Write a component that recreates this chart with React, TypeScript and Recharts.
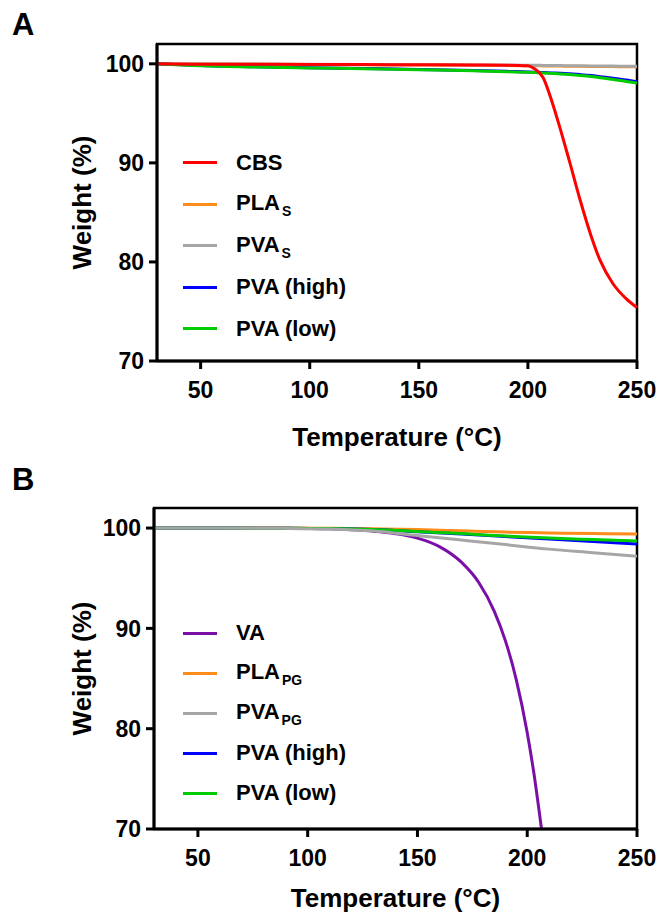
import { LineChart, Line, XAxis, YAxis, ReferenceArea, Label } from 'recharts';

// Panel A - TGA of CBS formulations
const tempA = [30, 50, 75, 100, 125, 150, 175, 190, 200, 203, 207, 211, 215, 219, 224, 229, 233, 239, 245, 250];
const cbsA = [100, 99.95, 99.95, 99.93, 99.92, 99.9, 99.88, 99.86, 99.8, 99.5, 98.6, 96.2, 93.3, 90.2, 86.2, 82.6, 80.2, 77.8, 76.3, 75.4];
const plaSA = [100, 99.98, 99.95, 99.92, 99.9, 99.87, 99.85, 99.82, 99.8, 99.8, 99.79, 99.78, 99.77, 99.76, 99.75, 99.74, 99.73, 99.72, 99.71, 99.7];
const pvaSA = [100, 99.99, 99.97, 99.95, 99.93, 99.91, 99.89, 99.87, 99.85, 99.85, 99.84, 99.83, 99.82, 99.81, 99.8, 99.79, 99.78, 99.77, 99.76, 99.75];
const pvaHighA = [100, 99.82, 99.7, 99.6, 99.52, 99.43, 99.33, 99.24, 99.18, 99.16, 99.12, 99.08, 99.04, 98.99, 98.91, 98.81, 98.7, 98.54, 98.36, 98.18];
const pvaLowA = [100, 99.8, 99.68, 99.58, 99.5, 99.4, 99.3, 99.2, 99.15, 99.12, 99.08, 99.03, 98.98, 98.92, 98.83, 98.72, 98.6, 98.42, 98.22, 98.05];

// Panel B - TGA of VA formulations
const tempVA = [30, 60, 90, 110, 120, 130, 140, 150, 160, 170, 178, 185, 190, 195, 200, 203, 206.5];
const vaB = [100, 100, 99.98, 99.92, 99.83, 99.69, 99.44, 99.0, 98.15, 96.6, 94.55, 91.7, 88.8, 84.9, 79.6, 75.6, 70.0];
const tempB = [30, 60, 90, 110, 130, 150, 170, 190, 210, 230, 250];
const plaPgB = [100, 100, 100, 99.98, 99.93, 99.85, 99.72, 99.6, 99.52, 99.45, 99.4];
const pvaPgB = [100, 100, 99.97, 99.9, 99.7, 99.25, 98.8, 98.35, 97.9, 97.55, 97.2];
const pvaHighB = [100, 100, 99.98, 99.95, 99.85, 99.63, 99.4, 99.15, 98.9, 98.65, 98.4];
const pvaLowB = [100, 100, 99.98, 99.95, 99.85, 99.65, 99.45, 99.2, 99.0, 98.85, 98.7];

const xTicks = [50, 100, 150, 200, 250];
const yTicks = [70, 80, 90, 100];

const FONT = '"Liberation Sans", Arial, Helvetica, sans-serif';

const pts = (t: number[], w: number[]) => t.map((x, i) => ({ t: x, w: w[i] }));

type Series = { key: string; name: string; sub?: string; color: string; data: { t: number; w: number }[] };

const seriesA: Series[] = [
  { key: 'cbs', name: 'CBS', color: '#ff0000', data: pts(tempA, cbsA) },
  { key: 'pla', name: 'PLA', sub: 'S', color: '#ff8c1a', data: pts(tempA, plaSA) },
  { key: 'pvas', name: 'PVA', sub: 'S', color: '#a6a6a6', data: pts(tempA, pvaSA) },
  { key: 'high', name: 'PVA (high)', color: '#0000ff', data: pts(tempA, pvaHighA) },
  { key: 'low', name: 'PVA (low)', color: '#00cc00', data: pts(tempA, pvaLowA) },
];
// draw order (bottom -> top)
const orderA = ['pla', 'pvas', 'high', 'low', 'cbs'];

const seriesB: Series[] = [
  { key: 'va', name: 'VA', color: '#7a0fa8', data: pts(tempVA, vaB) },
  { key: 'pla', name: 'PLA', sub: 'PG', color: '#ff8c1a', data: pts(tempB, plaPgB) },
  { key: 'pvapg', name: 'PVA', sub: 'PG', color: '#a6a6a6', data: pts(tempB, pvaPgB) },
  { key: 'high', name: 'PVA (high)', color: '#0000ff', data: pts(tempB, pvaHighB) },
  { key: 'low', name: 'PVA (low)', color: '#00cc00', data: pts(tempB, pvaLowB) },
];
const orderB = ['va', 'pla', 'high', 'low', 'pvapg'];

const tickStyle = { fontFamily: FONT, fontSize: 23, fontWeight: 700, fill: '#000' };

function LegendBox({ series, rowH, top }: { series: Series[]; rowH: number; top: number }) {
  return (
    <div style={{ position: 'absolute', left: 183, top, fontFamily: FONT, fontWeight: 700, fontSize: 22, color: '#000' }}>
      {series.map((s) => (
        <div key={s.key} style={{ display: 'flex', alignItems: 'center', height: rowH }}>
          <span style={{ display: 'inline-block', width: 34, height: 3, background: s.color, marginRight: 19 }} />
          <span style={{ whiteSpace: 'nowrap', lineHeight: '22px' }}>
            {s.name}
            {s.sub && (
              <span style={{ fontSize: 14, position: 'relative', top: 6, marginLeft: 2 }}>{s.sub}</span>
            )}
          </span>
        </div>
      ))}
    </div>
  );
}

function Panel({
  letter, series, order, height, marginTop, leftW, xAxisH, xTitleOffset, legendTop, rowH,
}: {
  letter: string; series: Series[]; order: string[]; height: number; marginTop: number; leftW: number;
  xAxisH: number; xTitleOffset: number; legendTop: number; rowH: number;
}) {
  const yTitle = (props: any) => {
    const vb = props.viewBox;
    const cx = 91;
    const cy = vb.y + vb.height / 2;
    return (
      <text x={cx} y={cy} transform={`rotate(-90 ${cx} ${cy})`} textAnchor="middle"
        style={{ fontFamily: FONT, fontSize: 26, fontWeight: 700, fill: '#000' }}>
        Weight (%)
      </text>
    );
  };
  const sorted = order.map((k) => series.find((s) => s.key === k)!);
  return (
    <div style={{ position: 'relative', width: 660, height }}>
      <div style={{ position: 'absolute', left: 12, top: 9, fontFamily: FONT, fontWeight: 700, fontSize: 31, lineHeight: 1 }}>
        {letter}
      </div>
      <LineChart width={660} height={height} margin={{ top: marginTop, right: 23, left: 0, bottom: 0 }}>
        <XAxis
          dataKey="t" type="number" domain={[30, 250]} ticks={xTicks} allowDuplicatedCategory={false}
          axisLine={{ stroke: '#000', strokeWidth: 3 }} tickLine={{ stroke: '#000', strokeWidth: 3 }}
          tickSize={8} tickMargin={13} tick={tickStyle} height={xAxisH}
        >
          <Label value="Temperature (°C)" position="insideBottom" offset={xTitleOffset}
            style={{ fontFamily: FONT, fontSize: 26, fontWeight: 700, fill: '#000' }} />
        </XAxis>
        <YAxis
          dataKey="w" type="number" domain={[70, 102]} ticks={yTicks} allowDataOverflow
          axisLine={{ stroke: '#000', strokeWidth: 3 }} tickLine={{ stroke: '#000', strokeWidth: 3 }}
          tickSize={8} tickMargin={5} tick={tickStyle} width={leftW}
        >
          <Label content={yTitle} />
        </YAxis>
        <ReferenceArea x1={30} x2={250} y1={70} y2={102} fill="none" stroke="#000" strokeWidth={2.5} />
        {sorted.map((s) => (
          <Line key={s.key} data={s.data} dataKey="w" type="monotone" stroke={s.color} strokeWidth={3}
            dot={false} activeDot={false} isAnimationActive={false} />
        ))}
      </LineChart>
      <LegendBox series={series} rowH={rowH} top={legendTop} />
    </div>
  );
}

export default function App() {
  return (
    <div style={{ position: 'absolute', left: 0, top: 0, width: 660, height: 915, background: '#fff' }}>
      <style>{`body{margin:0}`}</style>
      <Panel letter="A" series={seriesA} order={orderA} height={455} marginTop={44} leftW={157}
        xAxisH={94} xTitleOffset={9} legendTop={142} rowH={41.5} />
      <Panel letter="B" series={seriesB} order={orderB} height={460} marginTop={53} leftW={154}
        xAxisH={86} xTitleOffset={8} legendTop={158} rowH={40} />
    </div>
  );
}
